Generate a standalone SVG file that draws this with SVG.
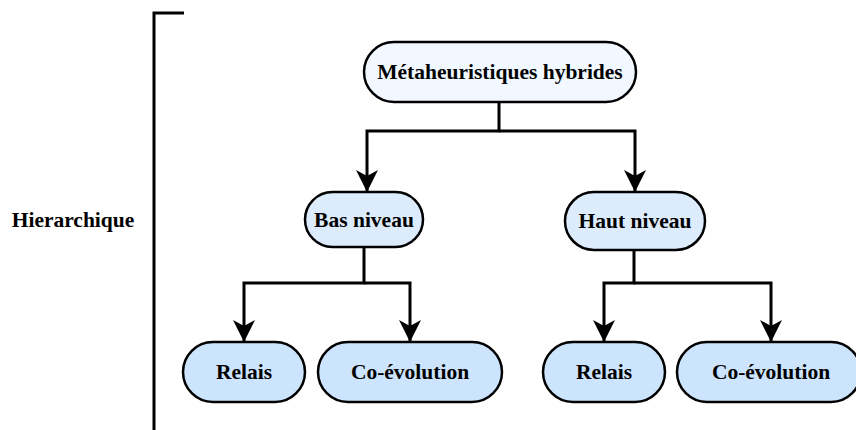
<svg xmlns="http://www.w3.org/2000/svg" width="856" height="430" viewBox="0 0 856 430">
  <defs>
    <style>
      .node rect { stroke: #000; stroke-width: 2.5; }
      .root rect { fill: #f2f8ff; }
      .mid rect { fill: #ddecfd; }
      .leaf rect { fill: #cce4fd; }
      text { font-family: "Liberation Serif", "Times New Roman", serif; font-weight: bold; font-size: 21.5px; fill: #000; text-anchor: middle; dominant-baseline: central; }
      .wire { fill: none; stroke: #000; stroke-width: 3; }
    </style>
    <marker id="head" viewBox="0 0 22 22" refX="21" refY="11" markerWidth="22" markerHeight="22" markerUnits="userSpaceOnUse" orient="auto">
      <path d="M0,0 L22,11 L0,22 L6,11 Z" fill="#000"/>
    </marker>
  </defs>

  <rect width="856" height="430" fill="#fff"/>

  <!-- bracket on the left -->
  <g id="bracket">
    <path d="M184,13 L154,13 L154,430" class="wire"/>
    <text x="73" y="220">Hierarchique</text>
  </g>

  <!-- connectors -->
  <g id="connectors">
    <path class="wire" d="M499,102 V131 H367 V191" marker-end="url(#head)"/>
    <path class="wire" d="M499,131 H635 V191" marker-end="url(#head)"/>
    <path class="wire" d="M364,247 V283 H244 V341" marker-end="url(#head)"/>
    <path class="wire" d="M364,283 H410 V341" marker-end="url(#head)"/>
    <path class="wire" d="M634,250 V283 H604 V341" marker-end="url(#head)"/>
    <path class="wire" d="M634,283 H771 V341" marker-end="url(#head)"/>
  </g>

  <g id="n-root" class="node root">
    <rect x="364" y="42" width="272" height="60" rx="30"/>
    <text x="500" y="72">Métaheuristiques hybrides</text>
  </g>

  <g id="n-bas" class="node mid">
    <rect x="305" y="192" width="118" height="55" rx="27.5"/>
    <text x="364" y="220">Bas niveau</text>
  </g>

  <g id="n-haut" class="node mid">
    <rect x="565" y="192" width="140" height="58" rx="29"/>
    <text x="635" y="221">Haut niveau</text>
  </g>

  <g id="n-relais-1" class="node leaf">
    <rect x="183" y="342" width="122" height="60" rx="30"/>
    <text x="244" y="372">Relais</text>
  </g>

  <g id="n-coevo-1" class="node leaf">
    <rect x="318" y="342" width="184" height="60" rx="30"/>
    <text x="410" y="372">Co-évolution</text>
  </g>

  <g id="n-relais-2" class="node leaf">
    <rect x="543" y="342" width="122" height="60" rx="30"/>
    <text x="604" y="372">Relais</text>
  </g>

  <g id="n-coevo-2" class="node leaf">
    <rect x="677" y="342" width="184" height="60" rx="30"/>
    <text x="771" y="372">Co-évolution</text>
  </g>
</svg>
